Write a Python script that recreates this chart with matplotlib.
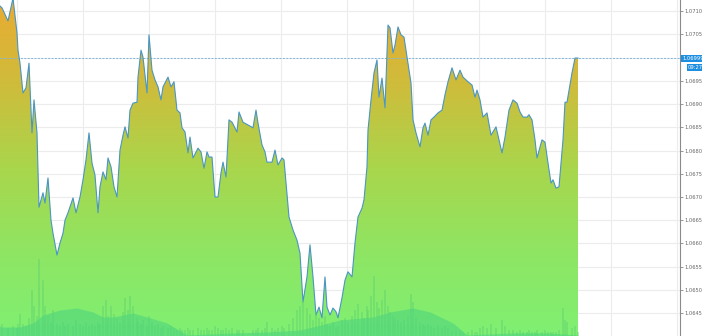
import numpy as np
import matplotlib
matplotlib.use("Agg")
import matplotlib.pyplot as plt
from matplotlib.colors import LinearSegmentedColormap

# minutes from start of window
t = [0, 2, 8, 13, 17, 18, 20, 23, 26, 29,
     32, 34, 37, 39, 43, 45, 48, 51, 53, 57,
     60, 63, 65, 68, 73, 76, 80, 83, 86, 89,
     92, 95, 98, 100, 103, 106, 108, 111, 114, 117,
     120, 123, 125, 128, 130, 133, 137, 138, 141, 143,
     147, 149, 152, 155, 158, 161, 163, 168, 171, 174,
     177, 180, 182, 185, 188, 190, 193, 198, 201, 204,
     207, 209, 212, 215, 218, 221, 223, 226, 229, 232,
     237, 239, 243, 253, 256, 258, 262, 265, 267, 272,
     275, 278, 282, 284, 289, 293, 297, 300, 303, 307,
     310, 313, 316, 319, 322, 325, 327, 330, 333, 336,
     338, 342, 345, 348, 352, 355, 358, 362, 364, 367,
     368, 371, 374, 377, 379, 382, 385, 388, 390, 393,
     395, 398, 401, 404, 408, 411, 413, 416, 420, 423,
     425, 428, 431, 434, 438, 442, 445, 448, 452, 456,
     460, 463, 468, 472, 475, 477, 480, 483, 487, 491,
     496, 502, 505, 509, 513, 517, 520, 523, 527, 529,
     532, 535, 537, 542, 545, 548, 551, 553, 556, 559,
     563, 565, 567, 572, 575, 578]

price = [1.07111, 1.07107, 1.07079, 1.07128, 1.07053, 1.07016, 1.06988, 1.06924, 1.06935, 1.06988,
         1.06838, 1.06909, 1.06838, 1.06678, 1.06709, 1.06687, 1.06741, 1.06650, 1.06622, 1.06575,
         1.06601, 1.06622, 1.06650, 1.06666, 1.06698, 1.06666, 1.06700, 1.06737, 1.06780, 1.06838,
         1.06773, 1.06747, 1.06666, 1.06722, 1.06754, 1.06737, 1.06784, 1.06765, 1.06722, 1.06700,
         1.06801, 1.06833, 1.06851, 1.06827, 1.06887, 1.06902, 1.06904, 1.06958, 1.07016, 1.07001,
         1.06924, 1.07049, 1.06973, 1.06952, 1.06937, 1.06909, 1.06937, 1.06958, 1.06937, 1.06948,
         1.06887, 1.06881, 1.06849, 1.06840, 1.06795, 1.06829, 1.06784, 1.06805, 1.06797, 1.06762,
         1.06797, 1.06786, 1.06786, 1.06700, 1.06700, 1.06752, 1.06775, 1.06743, 1.06866, 1.06861,
         1.06840, 1.06883, 1.06861, 1.06849, 1.06887, 1.06859, 1.06812, 1.06797, 1.06775, 1.06775,
         1.06801, 1.06769, 1.06784, 1.06780, 1.06657, 1.06629, 1.06607, 1.06579, 1.06474, 1.06528,
         1.06597, 1.06528, 1.06446, 1.06463, 1.06440, 1.06528, 1.06463, 1.06446, 1.06461, 1.06453,
         1.06440, 1.06483, 1.06521, 1.06539, 1.06528, 1.06601, 1.06657, 1.06676, 1.06694, 1.06765,
         1.06844, 1.06909, 1.06967, 1.06995, 1.06915, 1.06956, 1.06892, 1.07070, 1.07064, 1.07010,
         1.07027, 1.07066, 1.07049, 1.07044, 1.06988, 1.06945, 1.06866, 1.06838, 1.06808, 1.06849,
         1.06859, 1.06833, 1.06866, 1.06872, 1.06881, 1.06887, 1.06920, 1.06948, 1.06978, 1.06952,
         1.06973, 1.06958, 1.06948, 1.06941, 1.06915, 1.06930, 1.06909, 1.06872, 1.06881, 1.06833,
         1.06851, 1.06795, 1.06829, 1.06887, 1.06909, 1.06902, 1.06883, 1.06872, 1.06872, 1.06877,
         1.06866, 1.06823, 1.06784, 1.06823, 1.06818, 1.06773, 1.06730, 1.06737, 1.06719, 1.06722,
         1.06823, 1.06904, 1.06904, 1.06967, 1.06999, 1.06999]

volume = [10, 12, 8, 10, 8, 12, 22, 12, 10, 18,
          46, 30, 20, 77, 56, 30, 20, 14, 26, 12,
          10, 14, 10, 12, 10, 16, 12, 10, 14, 10,
          12, 10, 14, 12, 30, 36, 20, 30, 22, 18,
          14, 24, 38, 26, 40, 30, 18, 14, 12, 16,
          10, 20, 14, 10, 12, 8, 10, 8, 10, 8,
          6, 8, 6, 6, 8, 6, 6, 8, 6, 6,
          8, 6, 6, 10, 8, 6, 6, 8, 6, 8,
          6, 6, 6, 6, 6, 8, 6, 8, 14, 8,
          6, 8, 10, 8, 12, 18, 26, 30, 36, 28,
          22, 16, 24, 18, 14, 20, 12, 10, 14, 8,
          10, 16, 18, 14, 20, 26, 32, 24, 18, 30,
          26, 40, 60, 34, 28, 36, 46, 30, 24, 20,
          18, 16, 14, 16, 20, 42, 34, 18, 14, 12,
          10, 12, 10, 8, 10, 8, 10, 8, 6, 6,
          6, 4, 4, 6, 4, 4, 8, 10, 8, 12,
          8, 16, 10, 6, 6, 4, 6, 4, 4, 6,
          4, 4, 6, 4, 6, 4, 4, 4, 4, 6,
          28, 16, 14, 8, 10, 4]

# smoothed volume
ma_t = [0, 20, 33, 43, 60, 77, 93, 103, 113, 133, 147, 167, 187, 233,
        267, 300, 313, 340, 373, 390, 413, 430, 453, 467, 513, 547, 578]
ma_v = [9, 9, 13, 21, 26, 28, 24, 19, 19, 23, 19, 13, 1, 3,
        4, 6, 9, 16, 19, 24, 28, 24, 13, 1, 3, 3, 1]

last_price = 1.06999
countdown = "09:27"
yticks = np.arange(1.0640, 1.07101, 0.0005)

ymin, ymax = 1.064008, 1.07124
xmax = 680

fig = plt.figure(figsize=(7.02, 3.36), dpi=100)
ax = fig.add_axes([0, 0, 680 / 702, 1])

# grid; the label hidden behind the price box is left blank
ax.set_yticks(yticks)
labels = []
for v in yticks:
    if abs(v - last_price) < 0.0002:
        labels.append("")
    else:
        labels.append("%.5f" % v)
ax.set_yticklabels(labels)
ax.set_xticks(np.arange(17, xmax, 66))
ax.set_xticklabels([])
ax.grid(True, color="#ececec", lw=0.8)
ax.set_axisbelow(True)
ax.yaxis.tick_right()
ax.tick_params(axis="y", length=2, width=0.6, color="#888888",
               labelsize=3.7, labelcolor="#666666", pad=1.2)
ax.tick_params(axis="x", length=0)
for s in ["left", "top", "bottom"]:
    ax.spines[s].set_visible(False)
ax.spines["right"].set_color("#8a8a8a")
ax.spines["right"].set_linewidth(0.8)

# gradient area under the price line
cmap = LinearSegmentedColormap.from_list(
    "area", ["#e9ab32", "#cfbc3b", "#a9d64c", "#8fe563", "#7ff073"])
grad = np.linspace(0, 1, 256).reshape(-1, 1)
poly = ax.fill_between(t, price, ymin, facecolor="none", edgecolor="none")
im = ax.imshow(grad, cmap=cmap, aspect="auto", origin="upper",
               extent=[t[0], t[-1], ymin, ymax], zorder=2)
im.set_clip_path(poly.get_paths()[0], transform=ax.transData)
ax.set_xlim(0, xmax)
ax.set_ylim(ymin, ymax)

ax.plot(t, price, color="#4a95c2", lw=0.8, zorder=5)

# current price line
ax.axhline(last_price, color="#7fb6dc", lw=0.7, ls=(0, (2, 1.5)), zorder=4)

# volume
axv = fig.add_axes([0, 0, 680 / 702, 1], sharex=ax)
axv.set_ylim(0, 336)
axv.patch.set_alpha(0)
axv.axis("off")
axv.bar(t, volume, width=1.6, color="#5ccf6e", alpha=0.4, lw=0)
axv.fill_between(ma_t, ma_v, 0, color="#4fd47e", alpha=0.6, lw=0)
axv.set_xlim(0, xmax)

# price label boxes
fig.text(682 / 702, 1 - 58.5 / 336, "%.5f" % last_price, fontsize=3.7, color="white",
         ha="left", va="center",
         bbox=dict(boxstyle="square,pad=0.15", fc="#1e8fe0", ec="none"))
fig.text(688 / 702, 1 - 67.5 / 336, countdown, fontsize=3.7, color="white",
         ha="left", va="center",
         bbox=dict(boxstyle="square,pad=0.1", fc="#1e8fe0", ec="none"))

fig.savefig("out.png", dpi=100)
